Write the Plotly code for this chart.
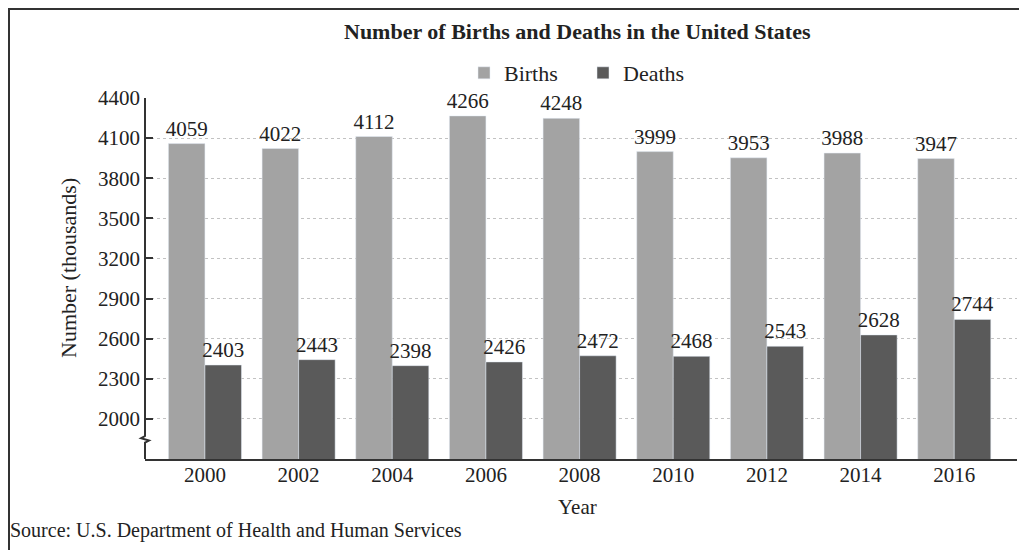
import plotly.graph_objects as go

years = ["2000", "2002", "2004", "2006", "2008", "2010", "2012", "2014", "2016"]
births = [4059, 4022, 4112, 4266, 4248, 3999, 3953, 3988, 3947]
deaths = [2403, 2443, 2398, 2426, 2472, 2468, 2543, 2628, 2744]
y_ticks = [2000, 2300, 2600, 2900, 3200, 3500, 3800, 4100, 4400]

SERIF = "Liberation Serif, Times New Roman, serif"
INK = "#222222"
# the page body adds an 8px margin, so the figure is laid out 8px smaller
OFF = 8
W, H = 1027 - OFF, 550 - OFF
ML, MR, MT, MB = 145 - OFF, 10, 98 - OFF, 91
PW, PH = W - ML - MR, H - MT - MB


def px_to_paper_x(px):
    # px given in page pixels
    return (px - OFF - ML) / PW


def px_to_paper_y(py):
    return (H - MB - (py - OFF)) / PH


fig = go.Figure()
fig.add_trace(go.Bar(
    name="Births", x=years, y=births,
    marker={"color": "#a3a3a3"},
    text=[str(v) for v in births], textposition="outside",
    textfont={"family": SERIF, "size": 21, "color": INK},
    constraintext="none", cliponaxis=False,
))
fig.add_trace(go.Bar(
    name="Deaths", x=years, y=deaths,
    marker={"color": "#5a5a5a"},
    text=[str(v) for v in deaths], textposition="outside",
    textfont={"family": SERIF, "size": 21, "color": INK},
    constraintext="none", cliponaxis=False,
))

# y axis line with a break near the bottom
fig.add_shape(
    type="path", xref="paper", yref="y", xsizemode="pixel", xanchor=0,
    path="M 0,4400 L 0,1872 L -4,1855 L 4,1838 L 0,1822 L 0,1700",
    line={"color": "#333333", "width": 2},
)
# frame around the figure (left and top edges)
fig.add_shape(
    type="line", xref="paper", yref="paper",
    x0=px_to_paper_x(9), x1=px_to_paper_x(9),
    y0=px_to_paper_y(9), y1=px_to_paper_y(560),
    line={"color": "#333333", "width": 2},
)
fig.add_shape(
    type="line", xref="paper", yref="paper",
    x0=px_to_paper_x(8), x1=px_to_paper_x(1040),
    y0=px_to_paper_y(9), y1=px_to_paper_y(9),
    line={"color": "#333333", "width": 2},
)

fig.add_annotation(
    text="<b>Number of Births and Deaths in the United States</b>",
    xref="paper", yref="paper",
    x=px_to_paper_x(577), y=px_to_paper_y(32),
    xanchor="center", yanchor="middle", showarrow=False,
    font={"family": SERIF, "size": 22, "color": INK},
)
fig.add_annotation(
    text="Source: U.S. Department of Health and Human Services",
    xref="paper", yref="paper",
    x=px_to_paper_x(8), y=px_to_paper_y(530),
    xanchor="left", yanchor="middle", showarrow=False,
    font={"family": SERIF, "size": 20, "color": INK},
)
fig.add_annotation(
    text="Number (thousands)", textangle=-90,
    xref="paper", yref="paper",
    x=px_to_paper_x(68), y=px_to_paper_y(268),
    xanchor="center", yanchor="middle", showarrow=False,
    font={"family": SERIF, "size": 22, "color": INK},
)
fig.add_annotation(
    text="Year",
    xref="paper", yref="paper",
    x=px_to_paper_x(577), y=px_to_paper_y(507),
    xanchor="center", yanchor="middle", showarrow=False,
    font={"family": SERIF, "size": 21, "color": INK},
)

fig.update_xaxes(
    type="category", range=[-0.64, 8.67], automargin=False,
    showline=True, linecolor="#333333", linewidth=2,
    showgrid=False, ticks="", ticklabelstandoff=-4,
    tickfont={"family": SERIF, "size": 21, "color": INK},
)
fig.update_yaxes(
    range=[1700, 4400], tickvals=y_ticks, automargin=False,
    showline=False, zeroline=False,
    ticks="inside", ticklen=8, tickwidth=1.5, tickcolor="#333333",
    showgrid=True, gridcolor="#c2c2c2", griddash="dot", gridwidth=1,
    ticklabelstandoff=4,
    tickfont={"family": SERIF, "size": 21, "color": INK},
)

fig.update_layout(
    width=W, height=H,
    margin={"l": ML, "r": MR, "t": MT, "b": MB, "autoexpand": False},
    paper_bgcolor="#ffffff", plot_bgcolor="#ffffff",
    barmode="group", bargap=0.22, bargroupgap=0,
    legend={
        "orientation": "h", "x": px_to_paper_x(583), "xanchor": "center",
        "y": px_to_paper_y(73), "yanchor": "middle",
        "entrywidth": 74, "itemwidth": 30,
        "font": {"family": SERIF, "size": 22, "color": INK},
        "bgcolor": "rgba(0,0,0,0)",
    },
)

fig.write_html("out.html")
